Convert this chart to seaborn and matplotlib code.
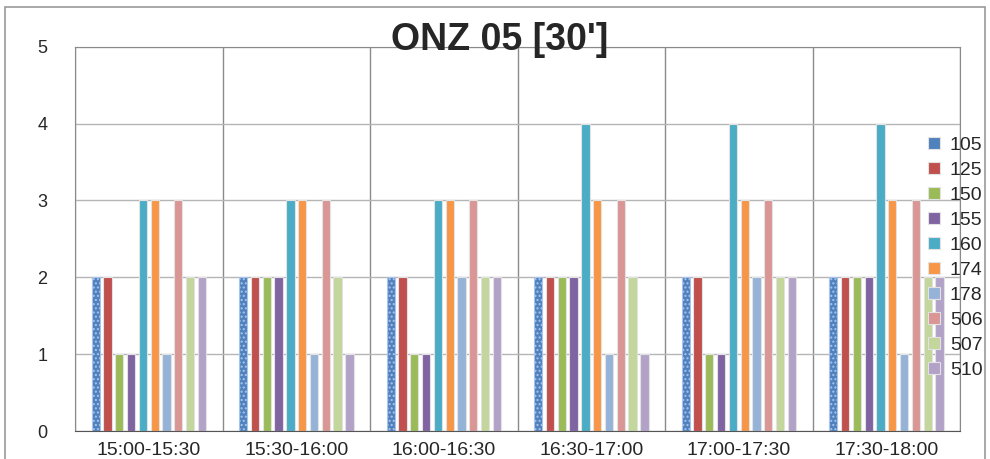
import pandas as pd
import numpy as np
import matplotlib.pyplot as plt
import seaborn as sns
from matplotlib.patches import Rectangle

intervals = ["15:00-15:30", "15:30-16:00", "16:00-16:30", "16:30-17:00", "17:00-17:30", "17:30-18:00"]
codes = ["105", "125", "150", "155", "160", "174", "178", "506", "507", "510"]

s105 = [2, 2, 2, 2, 2, 2]
s125 = [2, 2, 2, 2, 2, 2]
s150 = [1, 2, 1, 2, 1, 2]
s155 = [1, 2, 1, 2, 1, 2]
s160 = [3, 3, 3, 4, 4, 4]
s174 = [3, 3, 3, 3, 3, 3]
s178 = [1, 1, 2, 1, 2, 1]
s506 = [3, 3, 3, 3, 3, 3]
s507 = [2, 2, 2, 2, 2, 2]
s510 = [2, 1, 2, 1, 2, 2]
series = [s105, s125, s150, s155, s160, s174, s178, s506, s507, s510]

colors = ["#4F81BD", "#C0504D", "#9BBB59", "#8064A2", "#4BACC6",
          "#F79646", "#95B3D7", "#D99694", "#C3D69B", "#B3A2C7"]

rows = []
for code, vals in zip(codes, series):
    for iv, v in zip(intervals, vals):
        rows.append({"Intervallo": iv, "Codice": code, "Valore": v})
df = pd.DataFrame(rows)

sns.set_style("white")
plt.rcParams["font.family"] = ["Liberation Sans", "DejaVu Sans"]

fig = plt.figure(figsize=(9.9, 4.59), dpi=100)
ax = fig.add_axes([0.0758, 0.061, 0.894, 0.837])

sns.barplot(data=df, x="Intervallo", y="Valore", hue="Codice", hue_order=codes,
            palette=colors, saturation=1, width=0.8, gap=0.3,
            edgecolor="#e2e2e2", linewidth=0.8, ax=ax, legend=True)

# dotted fill for the first series
for bar in ax.containers[0]:
    bar.set_hatch("....")
    bar.set_edgecolor("#a8c4ec")

ax.set_ylim(0, 5)
ax.set_xlim(-0.5, len(intervals) - 0.5)
ax.set_yticks(range(6))
ax.set_xticks(np.arange(len(intervals) + 1) - 0.5, minor=True)
ax.grid(axis="y", which="major", color="#b5b5b5", linewidth=1)
ax.grid(axis="x", which="minor", color="#8a8a8a", linewidth=1)
ax.set_axisbelow(True)
ax.tick_params(axis="both", which="both", length=0, labelsize=13)
ax.tick_params(axis="x", labelsize=14, pad=8)
ax.tick_params(axis="y", pad=20)
ax.set_xlabel("")
ax.set_ylabel("")
for side in ["left", "right", "top"]:
    ax.spines[side].set_color("#8a8a8a")
ax.spines["bottom"].set_color("#555555")

ax.set_title("ONZ 05 [30']", fontsize=27, fontweight="bold", pad=-2, x=0.48)

handles, labels = ax.get_legend_handles_labels()
ax.legend(handles, labels, loc="upper left", bbox_to_anchor=(0.928, 0.723),
          bbox_transform=fig.transFigure, frameon=False, fontsize=14,
          handlelength=0.6, handleheight=0.6, handletextpad=0.5,
          labelspacing=0.41, borderpad=0)

fig.patches.append(Rectangle((5 / 990, -0.02), 980 / 990, (452 / 459) + 0.02,
                             transform=fig.transFigure, fill=False,
                             edgecolor="#9a9a9a", linewidth=1.2))

fig.savefig("out.png", dpi=100)
